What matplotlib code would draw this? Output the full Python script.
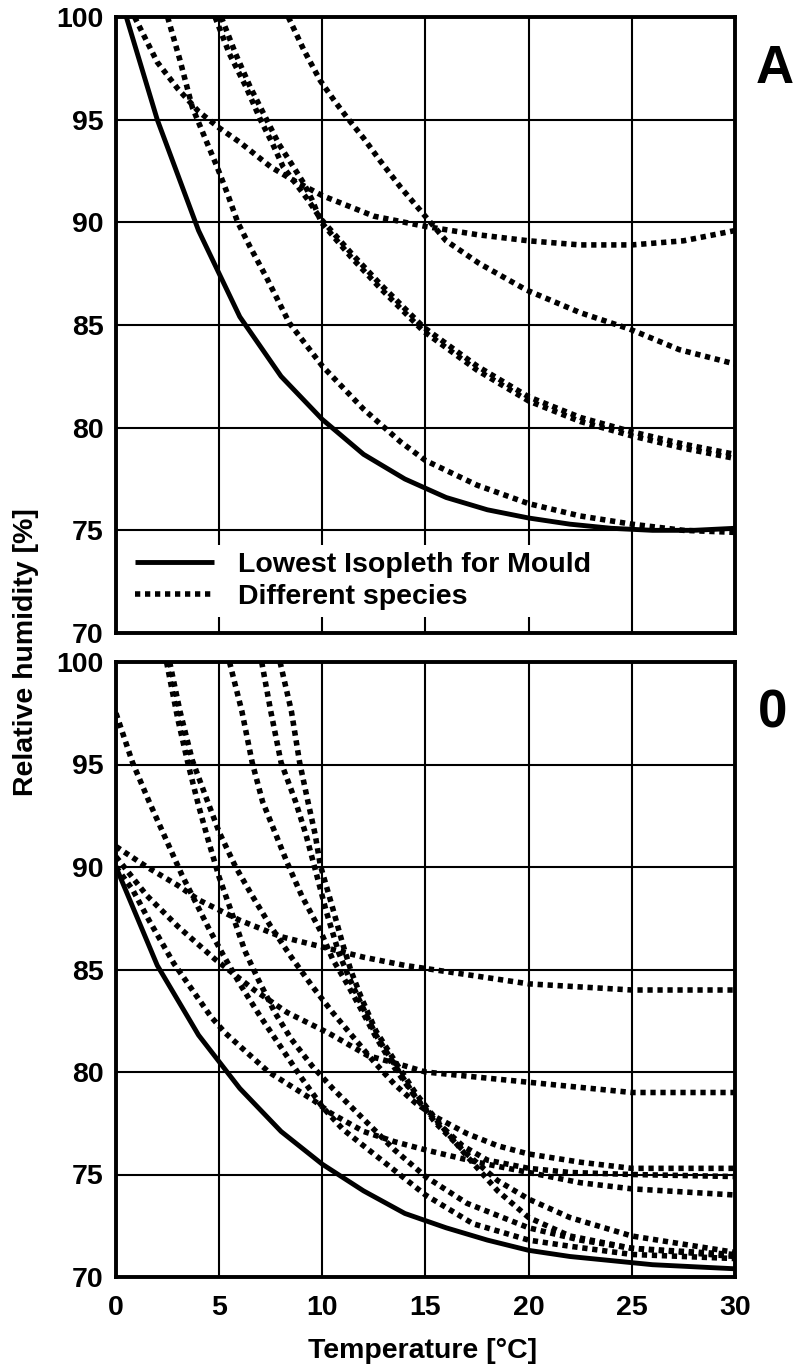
import matplotlib
matplotlib.use('Agg')
import matplotlib.pyplot as plt
from matplotlib.lines import Line2D

plt.rcParams['font.family'] = ['Liberation Sans', 'DejaVu Sans']
plt.rcParams['font.weight'] = 'bold'

# ---------------- Panel A data ----------------
a_lowest_t = [0.5, 2, 4, 6, 8, 10, 12, 14, 16, 18, 20, 22, 24, 26, 28, 30]
a_lowest_rh = [100, 95, 89.6, 85.4, 82.5, 80.4, 78.7, 77.5, 76.6, 76.0, 75.6, 75.3, 75.1, 75.0, 75.0, 75.1]

a_sp1_t = [0.9, 2, 3, 4, 5, 6, 7.5, 8.5, 10, 12.5, 15, 17.5, 20, 22.5, 25, 27.5, 30]
a_sp1_rh = [100, 97.8, 96.5, 95.4, 94.6, 93.9, 92.7, 92.1, 91.3, 90.3, 89.8, 89.4, 89.1, 88.9, 88.9, 89.1, 89.6]

a_sp2_t = [2.5, 3.1, 3.7, 4.4, 4.9, 5.4, 5.9, 6.5, 7.3, 8.4, 10, 12, 13.8, 15, 17.5, 20, 22.5, 25, 27.5, 30]
a_sp2_rh = [100, 97.9, 95.6, 93.9, 92.7, 91.4, 90.0, 88.8, 87.3, 85.1, 83.0, 80.9, 79.3, 78.4, 77.2, 76.3, 75.7, 75.3, 75.0, 74.9]

a_sp3_t = [4.8, 5.5, 6.3, 7.0, 7.6, 8.1, 8.7, 9.3, 9.9, 11.4, 12.8, 14.9, 17.5, 20, 22.5, 25, 27.5, 30]
a_sp3_rh = [100, 98.2, 96.6, 95.0, 93.8, 92.7, 91.9, 91.1, 90.2, 88.5, 87.0, 84.9, 83.0, 81.5, 80.5, 79.8, 79.2, 78.7]

a_sp4_t = [5.1, 5.8, 6.5, 7.3, 7.9, 8.6, 9.1, 9.5, 9.95, 11.4, 12.8, 14.9, 17.5, 20, 22.5, 25, 27.5, 30]
a_sp4_rh = [100, 98.2, 96.6, 95.0, 93.8, 92.7, 91.9, 91.1, 90.0, 88.3, 86.8, 84.7, 82.8, 81.3, 80.3, 79.6, 79.0, 78.5]

a_sp5_t = [8.35, 9.1, 9.9, 10.6, 11.2, 12.0, 12.8, 13.8, 14.9, 16, 17.6, 19.9, 22.5, 24.9, 27.3, 30]
a_sp5_rh = [100, 98.4, 96.9, 95.9, 95.1, 94.1, 93.0, 91.7, 90.4, 89.1, 88.0, 86.7, 85.6, 84.8, 83.8, 83.1]

# ---------------- Panel 0 data ----------------
o_lowest_t = [0, 2, 4, 6, 8, 10, 12, 14, 16, 18, 20, 22, 24, 26, 28, 30]
o_lowest_rh = [90, 85.2, 81.8, 79.2, 77.1, 75.5, 74.2, 73.1, 72.4, 71.8, 71.3, 71.0, 70.8, 70.6, 70.5, 70.4]

o_sp1_t = [0, 1.5, 3, 4, 6, 8, 10, 12, 14, 16, 18, 20, 25, 30]
o_sp1_rh = [91, 90, 89.1, 88.4, 87.4, 86.6, 86.1, 85.6, 85.2, 84.9, 84.6, 84.3, 84.0, 84.0]

o_sp2_t = [0, 1.5, 3, 4.8, 6.7, 8.3, 10.3, 12.2, 14, 15, 17, 20, 25, 30]
o_sp2_rh = [90.5, 88.6, 87.1, 85.5, 84.0, 82.9, 81.9, 80.8, 80.3, 80.0, 79.8, 79.5, 79.0, 79.0]

o_sp3_t = [0, 0.8, 1.6, 2.8, 3.7, 4.6, 5.3, 6.4, 7.4, 8.5, 9.6, 10.4, 12, 13.5, 15, 17.5, 20, 22.5, 25, 30]
o_sp3_rh = [90, 88.9, 87.4, 85.3, 84.0, 82.7, 81.9, 80.9, 80.0, 79.3, 78.6, 78.0, 77.1, 76.6, 76.2, 75.6, 75.1, 74.6, 74.3, 74.0]

o_sp4_t = [0, 0.8, 1.6, 2.4, 3.2, 3.8, 4.5, 5.2, 6, 7, 8, 9, 10, 11, 12, 13, 14, 15, 17.3, 20, 22, 25, 30]
o_sp4_rh = [97.5, 95.1, 93.2, 91.4, 89.6, 88.4, 87.0, 85.7, 84.3, 82.7, 81.2, 79.7, 78.3, 77.2, 76.4, 75.6, 74.8, 74.0, 72.6, 71.8, 71.5, 71.1, 70.9]

o_sp5_t = [2.45, 3.0, 3.5, 4.0, 4.5, 5.0, 5.6, 6.25, 6.9, 7.7, 8.5, 9.5, 10.5, 11.5, 12.5, 13.5, 15, 17, 20, 22.5, 25, 30]
o_sp5_rh = [100, 97.2, 95.0, 93.0, 91.2, 89.5, 87.8, 85.9, 84.5, 82.9, 81.6, 80.3, 79.2, 78.2, 77.2, 76.2, 74.9, 73.6, 72.4, 71.8, 71.4, 71.1]

o_sp6_t = [2.6, 3.1, 3.7, 4.4, 5.0, 5.8, 6.6, 7.5, 8.5, 9.5, 10.5, 11.5, 12.5, 13.5, 14.5, 15.5, 17, 18.5, 20, 22.5, 25, 30]
o_sp6_rh = [100, 97.6, 95.2, 93.3, 91.7, 90.0, 88.6, 87.1, 85.6, 84.2, 82.9, 81.7, 80.5, 79.4, 78.5, 77.8, 77.0, 76.4, 76.0, 75.6, 75.3, 75.3]

o_sp7_t = [5.5, 6.1, 6.6, 7.1, 7.7, 8.3, 9.0, 9.9, 10.5, 11.2, 11.8, 12.6, 13.5, 14.5, 15.5, 16.8, 18, 20, 22, 25, 30]
o_sp7_rh = [100, 97.6, 95.1, 93.2, 91.7, 90.2, 88.6, 86.9, 85.5, 84.3, 83.2, 81.7, 80.2, 78.8, 77.6, 76.4, 75.7, 75.3, 75.1, 75.0, 74.9]

o_sp8_t = [7.06, 7.5, 8.0, 8.7, 9.2, 9.65, 10.2, 10.8, 11.3, 11.8, 12.6, 13.6, 14.5, 15.5, 17, 18.5, 20, 22, 25, 30]
o_sp8_rh = [100, 97.6, 95.1, 93.2, 91.6, 89.9, 87.8, 85.8, 84.6, 83.5, 81.8, 80.2, 78.8, 77.5, 76.0, 74.7, 73.8, 72.9, 72.0, 71.2]

o_sp9_t = [7.95, 8.5, 8.9, 9.3, 9.65, 9.9, 10.5, 11.0, 11.4, 11.9, 12.6, 13.6, 14.5, 15.5, 17, 18.5, 20, 22, 25, 30]
o_sp9_rh = [100, 97.6, 95.1, 93.2, 91.6, 90.1, 88.0, 86.2, 84.9, 83.6, 82.0, 80.4, 79.0, 77.7, 75.9, 74.2, 72.9, 72.0, 71.4, 71.0]

x_ticks = [0, 5, 10, 15, 20, 25, 30]
y_ticks = [70, 75, 80, 85, 90, 95, 100]
legend_labels = ['Lowest Isopleth for Mould', 'Different species']
panel_labels = ['A', '0']
xlabel = 'Temperature [°C]'
ylabel = 'Relative humidity [%]'

a_species = [(a_sp1_t, a_sp1_rh), (a_sp2_t, a_sp2_rh), (a_sp3_t, a_sp3_rh),
             (a_sp4_t, a_sp4_rh), (a_sp5_t, a_sp5_rh)]
o_species = [(o_sp1_t, o_sp1_rh), (o_sp2_t, o_sp2_rh), (o_sp3_t, o_sp3_rh),
             (o_sp4_t, o_sp4_rh), (o_sp5_t, o_sp5_rh), (o_sp6_t, o_sp6_rh),
             (o_sp7_t, o_sp7_rh), (o_sp8_t, o_sp8_rh), (o_sp9_t, o_sp9_rh)]

W, H = 796, 1369
fig = plt.figure(figsize=(W / 100, H / 100), dpi=100)
L, R = 116, 735
ax1 = fig.add_axes([L / W, 1 - 633 / H, (R - L) / W, (633 - 17) / H])
ax2 = fig.add_axes([L / W, 1 - 1277 / H, (R - L) / W, (1277 - 662) / H])

DOT = dict(color='black', lw=4.0, ls=(0, (0.95, 0.85)), dash_capstyle='butt', solid_joinstyle='round')
SOL = dict(color='black', lw=3.5, ls='-', solid_joinstyle='round', solid_capstyle='butt')

for ax, lowest, species in [(ax1, (a_lowest_t, a_lowest_rh), a_species),
                            (ax2, (o_lowest_t, o_lowest_rh), o_species)]:
    ax.set_xlim(0, 30)
    ax.set_ylim(70, 100)
    ax.set_xticks(x_ticks)
    ax.set_yticks(y_ticks)
    ax.grid(True, color='black', lw=1.5)
    ax.set_axisbelow(True)
    ax.tick_params(length=0, labelsize=20.5, pad=9)
    ax.tick_params(axis='x', pad=13)
    for s in ax.spines.values():
        s.set_linewidth(2.8)
        s.set_zorder(5)
    for t, rh in species:
        ax.plot(t, rh, **DOT)
    ax.plot(lowest[0], lowest[1], **SOL)

ax1.tick_params(axis='x', labelbottom=False)

handles = [Line2D([], [], **SOL), Line2D([], [], **DOT)]
leg = ax1.legend(handles, legend_labels, loc='lower left', bbox_to_anchor=(0.02, 0.026),
                 frameon=True, facecolor='white', edgecolor='none', fancybox=False,
                 framealpha=1, prop=dict(weight='bold', size=20.5),
                 handlelength=2.75, handletextpad=0.85, labelspacing=0.2,
                 borderpad=0.25, borderaxespad=0)
leg.set_zorder(4)

fig.text(775 / W, 1 - 69 / H, panel_labels[0], ha='center', va='center', fontsize=38, fontweight='bold')
fig.text(773 / W, 1 - 713 / H, panel_labels[1], ha='center', va='center', fontsize=38, fontweight='bold')
fig.text(26 / W, 1 - 652 / H, ylabel, rotation=90, ha='center', va='center', fontsize=20.5, fontweight='bold')
fig.text(423 / W, 1 - 1351 / H, xlabel, ha='center', va='center', fontsize=20.5, fontweight='bold')

fig.savefig('out.png', dpi=100)
